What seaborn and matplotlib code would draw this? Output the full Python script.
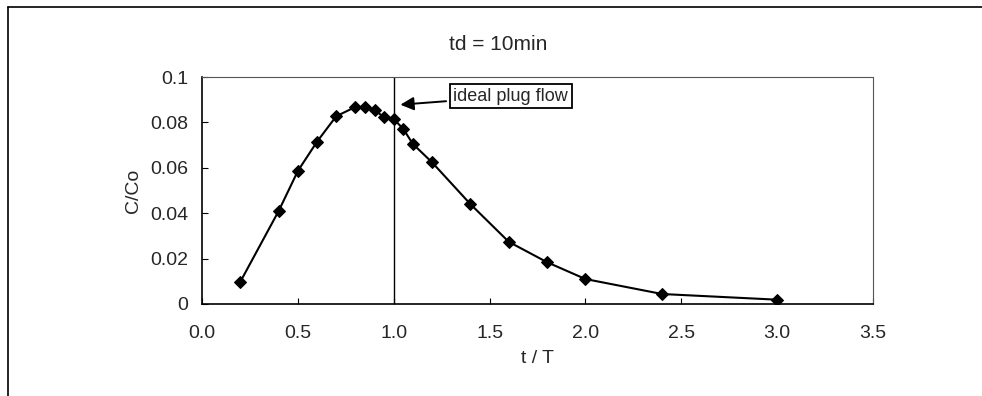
import numpy as np
import pandas as pd
import seaborn as sns
import matplotlib.pyplot as plt
from matplotlib.lines import Line2D

# tracer response curve
t_T = [0.2, 0.4, 0.5, 0.6, 0.7, 0.8, 0.85, 0.9, 0.95, 1.0, 1.05, 1.1, 1.2, 1.4, 1.6, 1.8, 2.0, 2.4, 3.0]
c_co = [0.0098, 0.041, 0.0586, 0.0715, 0.0827, 0.0868, 0.0868, 0.0855, 0.0822, 0.0815,
        0.0771, 0.0705, 0.0624, 0.044, 0.0274, 0.0184, 0.011, 0.0044, 0.0019]
plug_flow = 1.0
xticks = [0.0, 0.5, 1.0, 1.5, 2.0, 2.5, 3.0, 3.5]
yticks = [0, 0.02, 0.04, 0.06, 0.08, 0.1]
ytick_labels = ['0', '0.02', '0.04', '0.06', '0.08', '0.1']

df = pd.DataFrame({'t_T': t_T, 'c_co': c_co})

sns.set_theme(style='white')
plt.rcParams['font.family'] = ['Liberation Sans', 'DejaVu Sans']
fs = 14

fig = plt.figure(figsize=(9.82, 3.96), dpi=100)
ax = fig.add_axes([202/982, 1-304/396, (873-202)/982, (304-77)/396])

sns.lineplot(data=df, x='t_T', y='c_co', ax=ax, color='black', lw=1.5,
             marker='D', markersize=6, markeredgecolor='black', markerfacecolor='black')
ax.axvline(plug_flow, color='black', lw=1)

ax.set_xlim(0, 3.5)
ax.set_ylim(0, 0.1)
ax.set_xticks(xticks)
ax.set_xticklabels(['%.1f' % v for v in xticks], fontsize=fs)
ax.set_yticks(yticks)
ax.set_yticklabels(ytick_labels, fontsize=fs)
ax.tick_params(axis='both', direction='in', length=4, width=0.8, color='black',
               bottom=True, left=True)
ax.tick_params(axis='x', pad=15)
ax.tick_params(axis='y', pad=10)
ax.set_xlabel('t / T', fontsize=fs, labelpad=6)
ax.set_ylabel('C/Co', fontsize=fs, labelpad=6)

# title sits a little left of the axes centre in the reference
fig.text(498/982, 1-45/396, 'td = 10min', fontsize=15, ha='center', va='center')

for s in ['left', 'bottom']:
    ax.spines[s].set_color('black')
    ax.spines[s].set_linewidth(1.2)
for s in ['top', 'right']:
    ax.spines[s].set_color('#555555')
    ax.spines[s].set_linewidth(0.8)
    ax.spines[s].set_linestyle((0, (1, 1)))

ax.annotate('ideal plug flow', xy=(1.035, 0.0878), xytext=(1.31, 0.0915),
            fontsize=13, va='center', ha='left',
            bbox=dict(boxstyle='square,pad=0.2', fc='white', ec='black', lw=1.3),
            arrowprops=dict(arrowstyle='-|>', color='black', lw=1.4,
                            mutation_scale=20, shrinkA=2, shrinkB=0))

# outer frame (left and top edges only)
fig.add_artist(Line2D([8/982, 8/982], [0, 1-7/396], transform=fig.transFigure, color='black', lw=1.2))
fig.add_artist(Line2D([8/982, 1], [1-7/396, 1-7/396], transform=fig.transFigure, color='black', lw=1.2))

fig.savefig('out.png', dpi=100)
